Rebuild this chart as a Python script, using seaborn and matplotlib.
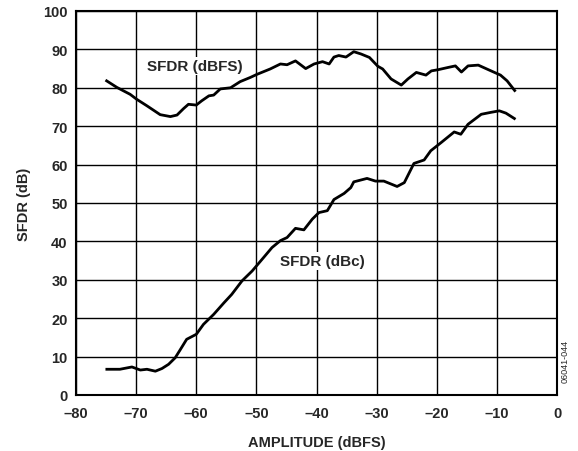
import numpy as np
import pandas as pd
import matplotlib
matplotlib.use("Agg")
import matplotlib.pyplot as plt
import seaborn as sns

# SFDR (dBFS) curve
dbfs_x = [-75.1, -73.2, -71.0, -69.9, -68.2, -66.0, -64.3, -63.2, -62.1, -61.3, -60.0,
          -59.1, -57.9, -57.1, -56.0, -54.3, -52.7, -51.0, -49.9, -47.7, -46.0, -44.9,
          -43.5, -41.8, -40.4, -39.0, -37.9, -37.1, -36.3, -35.1, -33.8, -32.6, -31.2,
          -29.8, -29.0, -27.6, -25.9, -24.8, -23.4, -21.8, -20.9, -19.8, -18.1, -16.9,
          -15.9, -14.8, -13.1, -11.4, -9.4, -8.3, -6.9]
dbfs_y = [82.0, 80.1, 78.3, 77.0, 75.3, 73.0, 72.5, 72.9, 74.6, 75.7, 75.5,
          76.6, 77.9, 78.1, 79.7, 80.0, 81.6, 82.7, 83.5, 84.9, 86.2, 86.0,
          87.0, 85.0, 86.2, 86.8, 86.2, 88.0, 88.4, 88.0, 89.4, 88.8, 87.9,
          85.6, 84.9, 82.3, 80.7, 82.3, 84.0, 83.3, 84.4, 84.7, 85.3, 85.7,
          84.1, 85.7, 85.9, 84.7, 83.3, 81.8, 79.0]

# SFDR (dBc) curve
dbc_x = [-75.1, -72.7, -70.7, -69.3, -68.2, -66.8, -65.7, -64.6, -63.5, -62.7, -61.6,
         -60.0, -58.8, -57.1, -55.4, -54.1, -52.4, -50.7, -48.8, -47.4, -46.0, -44.9,
         -43.5, -42.1, -40.7, -39.6, -38.2, -37.1, -35.4, -34.3, -33.8, -31.6, -30.2,
         -28.8, -26.6, -25.4, -23.8, -22.1, -21.0, -19.3, -17.1, -16.0, -14.8, -12.6,
         -11.0, -9.6, -8.5, -6.9]
dbc_y = [6.7, 6.7, 7.3, 6.5, 6.7, 6.2, 6.9, 8.0, 9.7, 11.7, 14.5,
         15.8, 18.4, 21.0, 24.0, 26.2, 29.7, 32.3, 35.8, 38.4, 40.2, 41.0,
         43.4, 43.0, 45.8, 47.5, 48.0, 50.9, 52.5, 54.0, 55.5, 56.4, 55.7,
         55.7, 54.3, 55.3, 60.3, 61.2, 63.6, 65.7, 68.5, 67.9, 70.5, 73.1,
         73.6, 74.0, 73.4, 71.8]

x_ticks = list(range(-80, 1, 10))
y_ticks = list(range(0, 101, 10))

sns.set_style("white")
plt.rcParams['font.family'] = ['Liberation Sans', 'DejaVu Sans']

fig = plt.figure(figsize=(5.78, 4.52), dpi=100)
ax = fig.add_axes([0.1315, 0.1239, 0.8322, 0.8496])

df1 = pd.DataFrame({"x": dbfs_x, "y": dbfs_y})
df2 = pd.DataFrame({"x": dbc_x, "y": dbc_y})
for df in (df1, df2):
    sns.lineplot(data=df, x="x", y="y", ax=ax, color="black", linewidth=2.0,
                 sort=False, estimator=None, zorder=3)
for line in ax.lines:
    line.set_solid_joinstyle("round")
    line.set_solid_capstyle("butt")

ax.set_xlim(-80, 0)
ax.set_ylim(0, 100)
ax.set_xticks(x_ticks)
ax.set_yticks(y_ticks)
ax.set_xticklabels([("\u2013" + str(-t)) if t < 0 else str(t) for t in x_ticks],
                   fontsize=10.5, fontweight="bold")
ax.set_yticklabels([str(t) for t in y_ticks], fontsize=10.5, fontweight="bold")
ax.tick_params(axis="x", length=0, pad=8)
ax.tick_params(axis="y", length=0, pad=6)
ax.grid(True, color="black", linewidth=1.0)
for s in ax.spines.values():
    s.set_color("black")
    s.set_linewidth(1.5)

ax.set_xlabel("AMPLITUDE (dBFS)", fontsize=10.5, fontweight="bold", labelpad=11)
ax.set_ylabel("SFDR (dB)", fontsize=10.5, fontweight="bold", labelpad=9)

box = dict(facecolor="white", edgecolor="none", pad=1.5)
ax.text(-68.2, 85.7, "SFDR (dBFS)", fontsize=11, fontweight="bold",
        va="center", ha="left", bbox=box, zorder=4)
ax.text(-46.1, 34.9, "SFDR (dBc)", fontsize=11, fontweight="bold",
        va="center", ha="left", bbox=box, zorder=4)

fig.text(0.978, 0.2, "06041-044", rotation=90, fontsize=6.5,
         va="center", ha="center")

fig.savefig("out.png", dpi=100)
